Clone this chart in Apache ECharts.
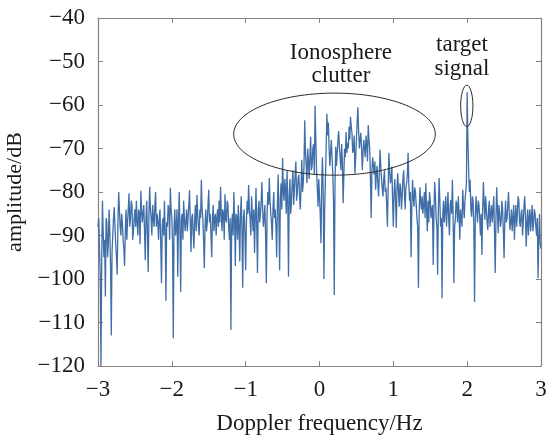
<!DOCTYPE html>
<html>
<head>
<meta charset="utf-8">
<script src="https://cdn.jsdelivr.net/npm/echarts@6/dist/echarts.min.js"></script>
<style>
  html, body { margin: 0; padding: 0; background: #fff; }
  #chart { width: 547px; height: 436px; }
</style>
</head>
<body>
<div id="chart"></div>
<script>
// Doppler spectrum sampled on a uniform grid from -3 Hz to 3 Hz (0.01 Hz bins)
const freqStart = -3;
const freqEnd = 3;

// Amplitude in dB, one value per bin (20 bins per row = 0.2 Hz)
const amplitudeDb = [
  -88, -86, -93, -99, -120, -96, -82, -89, -95, -91, -104, -86, -87, -95, -92, -84, -89, -97, -113, -94,
  -90, -86, -83.5, -88, -92, -95, -99, -87, -80, -84, -88, -90, -85, -87, -91, -93, -97, -89, -84, -91,
  -87, -84, -80.3, -88, -86, -82, -83, -91, -89, -86, -84, -88, -82, -87, -90, -84, -85, -92, -79.7, -84,
  -87, -85, -83, -89, -95.7, -86, -82, -90, -98.4, -85, -78.8, -84, -86, -90, -83, -86, -88, -83, -80, -88,
  -85, -87, -91, -86, -84, -92, -101, -88, -86, -90, -82, -89, -105, -87, -88, -83, -84, -91, -79, -84,
  -86, -92, -113.6, -88, -84, -90, -88, -84, -99.5, -87, -80, -89, -103, -86, -85, -91, -82, -86, -89, -87,
  -84, -89, -86, -83, -79.6, -87, -93.8, -86, -85, -90, -93, -86, -83, -89, -80.7, -85, -88, -90, -84, -86,
  -77.2, -84, -86, -91, -97.5, -88, -84, -89, -87, -83, -79.5, -87, -85, -90, -95, -86, -83, -89, -86, -85,
  -90, -86, -84, -88, -82, -87, -78.8, -85, -89, -84, -85, -91, -80.5, -86, -87, -82, -83, -88, -91, -86,
  -111.7, -88, -85, -90, -80, -86, -97, -85, -86, -91, -83, -88, -96, -85, -81, -89, -102, -86, -84, -90,
  -98, -87, -82, -85, -78.4, -84, -86, -90, -81, -85, -89, -84, -94, -86, -79, -88, -98.6, -84, -82, -87,
  -85, -82, -77.7, -84, -88, -86, -83, -90, -101, -85, -80, -83, -76.8, -82, -85, -87, -91, -84, -80, -86,
  -84, -88, -95, -83, -76, -86, -98, -81, -78, -84, -72.2, -80, -82, -77, -79.5, -85, -75, -82, -99.5, -81,
  -77, -85, -82.5, -78, -75, -83, -79.5, -76, -73, -82, -80, -77, -76, -81, -84, -79, -72.6, -80, -78, -74,
  -63.5, -71, -74, -78, -70, -73, -77, -72, -67.3, -75, -74, -70, -69, -76, -60.2, -68, -75, -79, -83.4, -77,
  -81, -85, -91.8, -78, -72, -80, -100, -84, -77, -70, -62, -67, -64, -70, -74, -71, -68, -72, -76, -82,
  -103.7, -78, -69.6, -74, -71, -68, -66, -70, -72, -75, -69, -73, -82.6, -76, -70, -72, -66.2, -71, -68.7, -70,
  -65, -68, -62.7, -65, -66.5, -71, -70, -67, -75.8, -72, -68, -64, -60.5, -66, -70, -68, -66.4, -70, -75, -71,
  -68, -70, -72, -67, -69, -73, -64.6, -68, -70, -77, -86, -75, -72, -74, -76, -73, -79.5, -76, -74, -78,
  -81, -76, -70.3, -74, -77, -79, -81, -77, -75, -80, -79, -83, -88, -79, -71, -75, -78, -77, -74.2, -82,
  -88, -80, -77, -82, -88.3, -79, -75.7, -80, -83.4, -78, -79, -84, -81, -77, -75, -80, -84, -79, -78, -76,
  -71, -78, -82, -80, -95, -84, -77.2, -81, -83.4, -79, -80, -83, -86, -88, -102, -85, -78.9, -82, -84, -81,
  -85, -83, -80, -86, -78, -84, -89, -82, -87, -80, -82, -86, -84, -83, -96.8, -85, -77.7, -81, -86, -88,
  -99, -84, -76.8, -82, -88, -86, -104.4, -85, -82, -87, -84, -81, -88, -84, -80, -86, -90, -83, -81.8, -85,
  -77.2, -86, -101, -88, -86.4, -82, -83, -87, -81, -85, -91, -84, -84, -88, -79.5, -83, -86, -82, -80, -78,
  -57, -68, -75, -80, -77.2, -84, -85.7, -81, -82, -88, -105.3, -86, -81, -84, -87, -82, -83, -86, -90, -85,
  -94.5, -84, -77.7, -83, -86.4, -81, -84, -87, -88.7, -84, -82, -88, -85, -83, -87, -84, -81, -89, -98.6, -86,
  -78.9, -84, -89.5, -83, -85, -88, -87, -82, -84, -89, -95.2, -86, -82, -87, -86, -83, -80, -85, -88.7, -87,
  -84, -89, -86, -83, -91, -86, -83, -88, -85, -81, -82, -87, -88, -85, -84, -90, -87, -83, -81, -86,
  -92.6, -87, -84, -90, -86, -84, -89, -86, -83, -89, -87, -84, -85, -88, -90, -86, -99.8, -91, -85, -92,
  -93
];

// Axis ranges and tick spacing
const xTicks = { min: -3, max: 3, interval: 1 };
const yTicks = { min: -120, max: -40, interval: 10 };

// Annotation ellipses in data units: [centerHz, centerDb, radiusHz, radiusDb]
const clutterRegion = [0.203, -66.7, 1.365, 9.43];
const targetRegion = [1.995, -60.2, 0.083, 4.75];

const binWidth = (freqEnd - freqStart) / (amplitudeDb.length - 1);
const seriesData = amplitudeDb.map((v, i) => [+(freqStart + i * binWidth).toFixed(4), v]);

const serif = '"Liberation Serif", "Times New Roman", serif';
const frameColor = '#8a817c';
const textColor = '#1a1a1a';
const minusFmt = v => String(v).replace('-', '\u2212');

const chart = echarts.init(document.getElementById('chart'), null, { renderer: 'canvas' });

const baseAxis = {
  axisLine: { show: true, onZero: false, lineStyle: { color: frameColor, width: 1.2 } },
  axisTick: { show: true, inside: true, length: 5, lineStyle: { color: frameColor } },
  splitLine: { show: false }
};

chart.setOption({
  animation: false,
  backgroundColor: '#fff',
  grid: { left: 98, right: 6, top: 18, bottom: 70, containLabel: false, outerBoundsMode: 'none' },
  xAxis: [
    Object.assign({}, baseAxis, {
      type: 'value', min: xTicks.min, max: xTicks.max, interval: xTicks.interval,
      position: 'bottom',
      name: 'Doppler frequency/Hz', nameLocation: 'middle', nameGap: 46,
      nameTextStyle: { fontFamily: serif, fontSize: 23, color: textColor },
      axisLabel: { fontFamily: serif, fontSize: 23, color: textColor, margin: 12, formatter: minusFmt }
    }),
    Object.assign({}, baseAxis, {
      type: 'value', min: xTicks.min, max: xTicks.max, interval: xTicks.interval,
      position: 'top', axisLabel: { show: false }
    })
  ],
  yAxis: [
    Object.assign({}, baseAxis, {
      type: 'value', min: yTicks.min, max: yTicks.max, interval: yTicks.interval,
      position: 'left',
      name: 'amplitude/dB', nameLocation: 'middle', nameGap: 67,
      nameTextStyle: { fontFamily: serif, fontSize: 22, color: textColor },
      axisLabel: { fontFamily: serif, fontSize: 23, color: textColor, margin: 13, formatter: minusFmt }
    }),
    Object.assign({}, baseAxis, {
      type: 'value', min: yTicks.min, max: yTicks.max, interval: yTicks.interval,
      position: 'right', axisLabel: { show: false }
    })
  ],
  series: [{
    type: 'line',
    data: seriesData,
    xAxisIndex: 0,
    yAxisIndex: 0,
    showSymbol: false,
    lineStyle: { color: '#3f6ea8', width: 1.3 },
    z: 3
  }]
});

// Annotation ellipses and their captions, placed through the axis scales
function drawAnnotations() {
  const toPx = (x, y) => chart.convertToPixel({ gridIndex: 0 }, [x, y]);
  const ellipse = (spec) => {
    const c = toPx(spec[0], spec[1]);
    const e = toPx(spec[0] + spec[2], spec[1] + spec[3]);
    return {
      type: 'ellipse',
      shape: { cx: c[0], cy: c[1], rx: Math.abs(e[0] - c[0]), ry: Math.abs(c[1] - e[1]) },
      style: { fill: 'none', stroke: '#2b2b2b', lineWidth: 1 },
      z: 10
    };
  };
  const caption = (x, y, text) => {
    const p = toPx(x, y);
    return {
      type: 'text', x: p[0], y: p[1], z: 10,
      style: { text, fontFamily: serif, fontSize: 23, fill: textColor, align: 'center', verticalAlign: 'middle' }
    };
  };
  chart.setOption({
    graphic: [
      ellipse(clutterRegion),
      ellipse(targetRegion),
      caption(0.29, -48.0, 'Ionosphere'),
      caption(0.29, -53.4, 'clutter'),
      caption(1.93, -46.3, 'target'),
      caption(1.93, -51.6, 'signal')
    ]
  });
}
drawAnnotations();
</script>
</body>
</html>
